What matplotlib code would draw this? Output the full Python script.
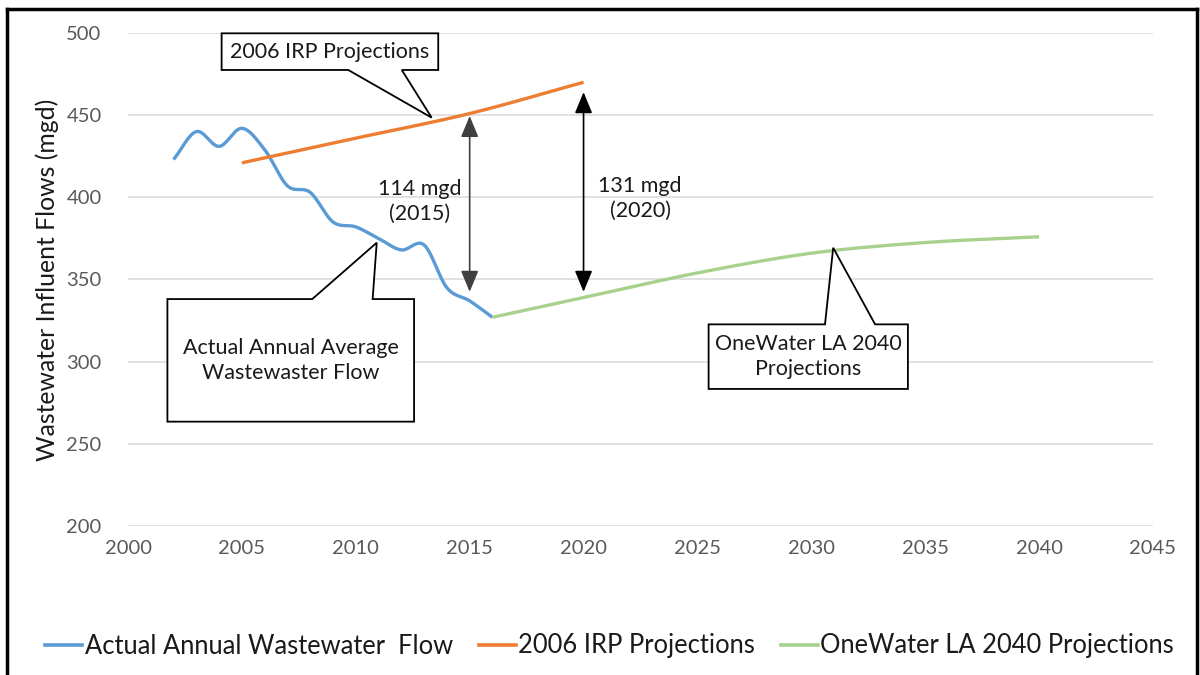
import numpy as np
import matplotlib
matplotlib.use("Agg")
import matplotlib.pyplot as plt
from matplotlib.patches import Polygon
from matplotlib.lines import Line2D

plt.rcParams['font.family'] = ['Lato', 'DejaVu Sans']

# ---------------- data ----------------
years_actual = [2002, 2003, 2004, 2005, 2006, 2007, 2008, 2009, 2010, 2011, 2012, 2013, 2014, 2015, 2016]
flow_actual = [423, 440, 431, 442, 429, 407, 403, 385, 382, 375, 368, 371, 345, 337, 327]

years_irp = [2005, 2010, 2015, 2020]
flow_irp = [421, 436, 451, 470]

years_ow = [2016, 2020, 2025, 2030, 2035, 2040]
flow_ow = [327, 339, 354, 366, 372.5, 376]

series_labels = ["Actual Annual Wastewater  Flow", "2006 IRP Projections", "OneWater LA 2040 Projections"]
series_colors = ["#5b9bd5", "#ed7d31", "#a9d18e"]

x_ticks = list(range(2000, 2046, 5))
y_ticks = list(range(200, 501, 50))

# gap arrows: (year, top value, bottom value, label)
gaps = [(2015, 449.5, 342.5, "114 mgd\n(2015)"),
        (2020, 464.0, 342.5, "131 mgd\n(2020)")]


def smooth(xs, ys, n=30):
    """Catmull-Rom rendering of a smoothed line through the given points."""
    x = np.asarray(xs, float)
    y = np.asarray(ys, float)
    px = np.concatenate([[2 * x[0] - x[1]], x, [2 * x[-1] - x[-2]]])
    py = np.concatenate([[2 * y[0] - y[1]], y, [2 * y[-1] - y[-2]]])
    ox, oy = [], []
    t = np.linspace(0, 1, n, endpoint=False)
    for i in range(1, len(px) - 2):
        p0x, p1x, p2x, p3x = px[i - 1:i + 3]
        p0y, p1y, p2y, p3y = py[i - 1:i + 3]
        for (a0, a1, a2, a3, out) in ((p0x, p1x, p2x, p3x, ox), (p0y, p1y, p2y, p3y, oy)):
            out.extend(0.5 * ((2 * a1) + (-a0 + a2) * t +
                              (2 * a0 - 5 * a1 + 4 * a2 - a3) * t ** 2 +
                              (-a0 + 3 * a1 - 3 * a2 + a3) * t ** 3))
    ox.append(x[-1]); oy.append(y[-1])
    return np.array(ox), np.array(oy)


fig = plt.figure(figsize=(12, 6.75), dpi=100)
ax = fig.add_axes([128 / 1200, 1 - 526 / 675, (1153 - 128) / 1200, (526 - 33) / 675])

ax.set_xlim(2000, 2045)
ax.set_ylim(200, 500)
ax.set_xticks(x_ticks)
ax.set_yticks(y_ticks)
ax.grid(axis='y', color='#d9d9d9', lw=1.1)
ax.set_axisbelow(True)
for s in ax.spines.values():
    s.set_visible(False)
ax.tick_params(length=0, labelsize=14.5, colors='#595959', pad=10)
ax.tick_params(axis='y', pad=19)
ax.set_ylabel("Wastewater Influent Flows (mgd)", fontsize=17.8, color='#1a1a1a', labelpad=5)

for xs, ys, c, lab in zip([years_actual, years_irp, years_ow],
                          [flow_actual, flow_irp, flow_ow], series_colors, series_labels):
    sx, sy = smooth(xs, ys)
    ax.plot(sx, sy, color=c, lw=2.4, label=lab, solid_capstyle='butt', zorder=3)

# gap arrows
for (yr, top, bot, lab), col in zip(gaps, ['#404040', '#000000']):
    ax.annotate('', xy=(yr, bot), xytext=(yr, top),
                arrowprops=dict(arrowstyle='<|-|>,head_length=0.65,head_width=0.27',
                                color=col, lw=1.2, shrinkA=0, shrinkB=0,
                                mutation_scale=20), zorder=4)
ax.text(2012.82, 397.7, gaps[0][3], ha='center', va='center', fontsize=15.5,
        color='#1a1a1a', linespacing=1.3, zorder=5)
ax.text(2022.48, 399.6, gaps[1][3], ha='center', va='center', fontsize=15.5,
        color='#1a1a1a', linespacing=1.3, zorder=5)


def callout(pts, text, tx, ty):
    poly = Polygon(pts, closed=True, facecolor='white', edgecolor='black',
                   lw=1.3, zorder=6, clip_on=False, joinstyle='miter')
    ax.add_patch(poly)
    ax.text(tx, ty, text, ha='center', va='center', fontsize=15.5,
            color='#1a1a1a', linespacing=1.3, zorder=7)


# IRP callout (wedge at bottom)
L, R, T, B = 2004.11, 2013.62, 499.8, 477.5
callout([(L, T), (R, T), (R, B), (2012.02, B), (2013.33, 448.5), (2009.67, B), (L, B)],
        "2006 IRP Projections", (L + R) / 2, (T + B) / 2)

# Actual callout (wedge at top)
L, R, T, B = 2001.73, 2012.56, 338.1, 263.5
callout([(L, T), (2008.09, T), (2010.92, 372.4), (2010.74, T), (R, T), (R, B), (L, B)],
        "Actual Annual Average\nWastewaster Flow", (L + R) / 2, (T + B) / 2)

# OneWater callout (wedge at top)
L, R, T, B = 2025.49, 2034.24, 322.7, 283.4
callout([(L, T), (2030.6, T), (2030.96, 369.3), (2032.8, T), (R, T), (R, B), (L, B)],
        "OneWater LA 2040\nProjections", (L + R) / 2, (T + B) / 2)

# legend
handles = [Line2D([0], [0], color=c, lw=2.6) for c in series_colors]
leg = fig.legend(handles, series_labels, loc='center', bbox_to_anchor=(0.508, 1 - 646 / 675),
                 ncol=3, frameon=False, fontsize=18.4, handlelength=1.45, handletextpad=0.1,
                 columnspacing=1.0)
for t in leg.get_texts():
    t.set_color('#1a1a1a')

# outer frame
for (x0, y0, x1, y1) in [(7, 675, 7, 9), (7, 9, 1197, 9), (1197, 9, 1197, 675)]:
    fig.add_artist(Line2D([x0 / 1200, x1 / 1200], [1 - y0 / 675, 1 - y1 / 675],
                          color='black', lw=2.5, transform=fig.transFigure))

fig.savefig("out.png", dpi=100)
